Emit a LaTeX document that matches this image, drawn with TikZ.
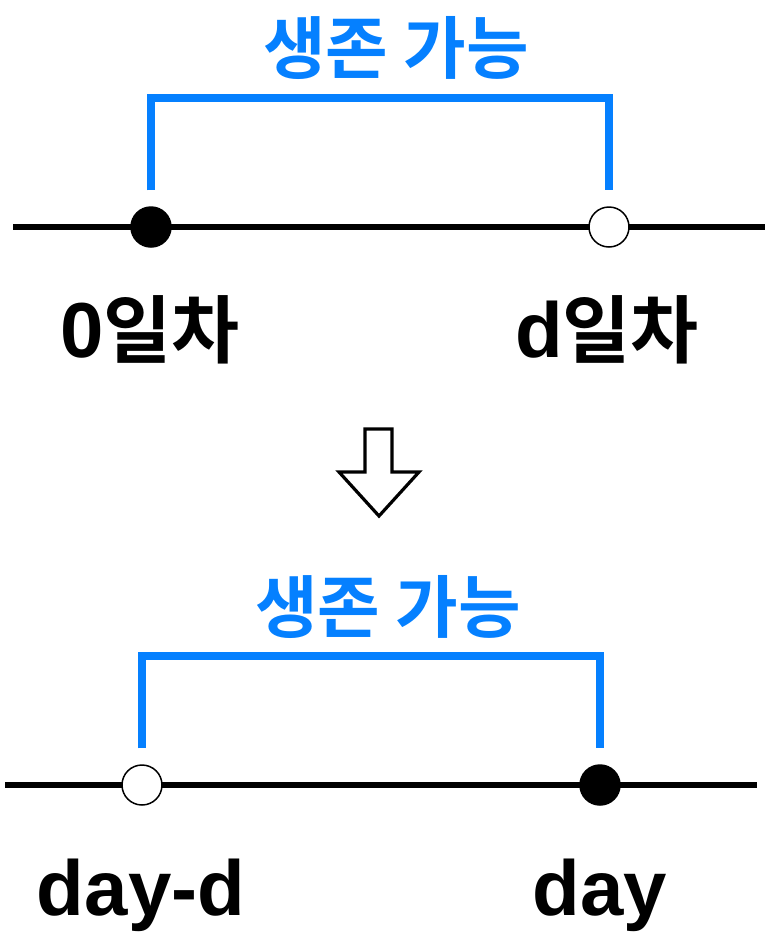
\documentclass[tikz,border=0pt]{standalone}
\usepackage{fontspec}
\newfontfamily\kr{Noto Sans CJK KR Bold}
\newfontfamily\lat{Liberation Sans Bold}
\definecolor{okblue}{RGB}{5,128,255}

\begin{document}
\begin{tikzpicture}[x=1pt,y=-1pt,
  axis/.style={line width=5.5pt},
  bracket/.style={draw=okblue,line width=8pt},
  dot/.style={circle,draw,line width=1.5pt,minimum size=40pt,inner sep=0pt},
  full/.style={dot,fill=black},
  open/.style={dot,fill=white},
  title/.style={text=okblue,font=\kr\fontsize{68}{68}\selectfont,inner sep=0pt},
  daylabel/.style={font=\lat\fontsize{78}{78}\selectfont,inner sep=0pt,anchor=base}]
\useasboundingbox (0,0) rectangle (770,948);

% before
\coordinate (l1) at (13,227);
\coordinate (r1) at (765,227);
\draw[axis] (l1) -- (r1);
\node[full] (s1) at (151,227) {};
\node[open] (e1) at (609,227) {};
\coordinate (b1) at (380,98);
\draw[bracket] ([yshift=16pt]s1.north) |- (b1) -| ([yshift=16pt]e1.north);
\node[title] (t1) at (396,48) {생존 가능};
\node[daylabel] (n1) at (150,357) {0{\kr\fontsize{74}{74}\selectfont 일차}};
\node[daylabel] (n2) at (607,357) {d{\kr\fontsize{74}{74}\selectfont 일차}};

% arrow
\draw[line width=3.2pt,line join=miter,fill=white]
  (365,429) -- (392,429) -- (392,472) -- (419,472) -- (379,516)
  -- (339,472) -- (365,472) -- cycle;

% after
\coordinate (l2) at (5,785);
\coordinate (r2) at (757,785);
\draw[axis] (l2) -- (r2);
\node[open] (s2) at (142,785) {};
\node[full] (e2) at (600,785) {};
\coordinate (b2) at (370,656);
\draw[bracket] ([yshift=16pt]s2.north) |- (b2) -| ([yshift=16pt]e2.north);
\node[title] (t2) at (388,607) {생존 가능};
\node[daylabel] (n3) at (141,915) {day-d};
\node[daylabel] (n4) at (600,915) {day};
\end{tikzpicture}
\end{document}
